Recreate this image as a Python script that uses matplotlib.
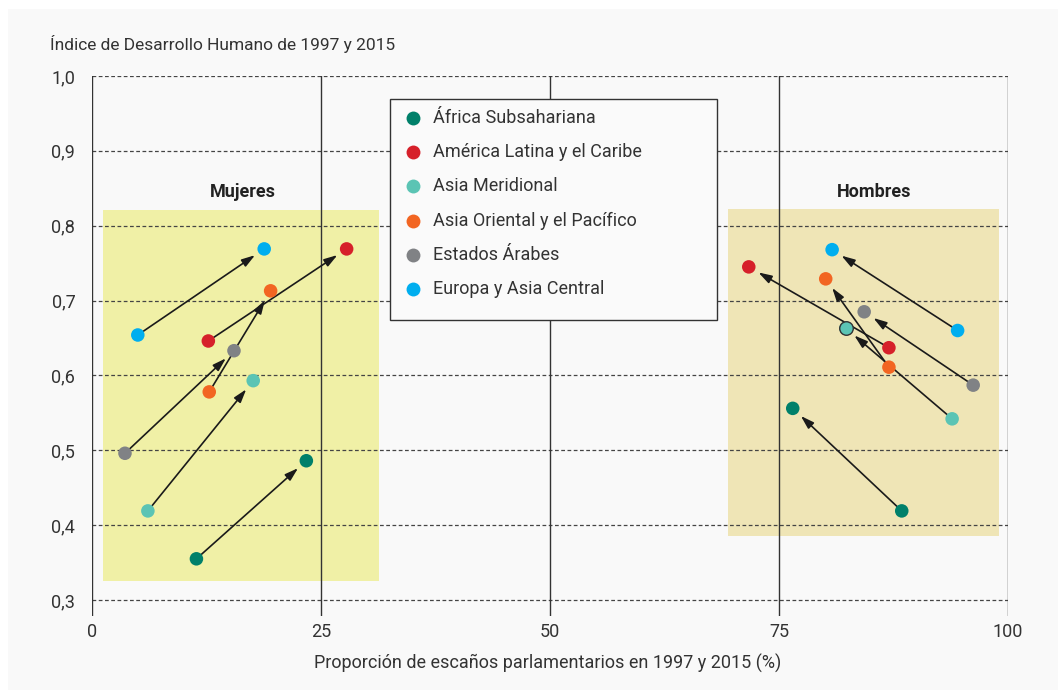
import matplotlib
matplotlib.use("Agg")
import matplotlib.pyplot as plt
from matplotlib.patches import Rectangle

plt.rcParams['font.family'] = ['Roboto', 'DejaVu Sans']

# Data
regions = ["África Subsahariana", "América Latina y el Caribe", "Asia Meridional",
           "Asia Oriental y el Pacífico", "Estados Árabes", "Europa y Asia Central"]
colors = ["#00806a", "#d6202a", "#5bc4b4", "#f26522", "#808285", "#00aeef"]

# women: seat share and HDI in 1997 and 2015
women_share_1997 = [11.4, 12.7, 6.1, 12.8, 3.6, 5.0]
women_share_2015 = [23.4, 27.8, 17.6, 19.5, 15.5, 18.8]
women_hdi_1997 = [0.355, 0.646, 0.419, 0.578, 0.496, 0.654]
women_hdi_2015 = [0.486, 0.769, 0.593, 0.713, 0.633, 0.769]

# men
men_share_1997 = [88.4, 87.0, 93.9, 87.0, 96.2, 94.5]
men_share_2015 = [76.5, 71.7, 82.3, 80.1, 84.3, 80.8]
men_hdi_1997 = [0.419, 0.637, 0.542, 0.611, 0.587, 0.660]
men_hdi_2015 = [0.556, 0.745, 0.663, 0.729, 0.685, 0.768]

yticks = [0.3, 0.4, 0.5, 0.6, 0.7, 0.8, 0.9, 1.0]
ytick_labels = ["0,3", "0,4", "0,5", "0,6", "0,7", "0,8", "0,9", "1,0"]
xticks = [0, 25, 50, 75, 100]

fig = plt.figure(figsize=(10.58, 6.91), dpi=100)
fig.patch.set_facecolor("white")
panel = Rectangle((8 / 1058, 1 - 690 / 691), 1 - 8 / 1058, (690 - 9) / 691,
                  transform=fig.transFigure, facecolor="#f9f9f9",
                  edgecolor="none", zorder=-10)
fig.add_artist(panel)

ax = fig.add_axes([92 / 1058, 1 - 616 / 691, 916 / 1058, 540 / 691])
ax.set_facecolor("none")
ax.set_xlim(0, 100)
ax.set_ylim(0.2786, 1.0)
for s in ax.spines.values():
    s.set_visible(False)

# shaded panels
ax.add_patch(Rectangle((1.2, 0.325), 30.1, 0.496, facecolor="#f0f0a6", edgecolor="none", zorder=1))
ax.add_patch(Rectangle((69.4, 0.386), 29.6, 0.436, facecolor="#efe5b6", edgecolor="none", zorder=1))

# grid
for y in yticks:
    ax.plot([0, 100], [y, y], color="#444444", lw=0.9, linestyle=(0, (3, 2)), zorder=2)
for x in xticks:
    ax.axvline(x, color="#333333", lw=1.0, zorder=2)

ax.set_yticks(yticks)
ax.set_yticklabels(ytick_labels)
ax.set_xticks(xticks)
ax.tick_params(length=0, labelsize=13, colors="#333333")
ax.tick_params(axis="x", pad=5)
ax.tick_params(axis="y", pad=12)

ax.text(16.5, 0.845, "Mujeres", ha="center", va="center", fontsize=13, fontweight="bold",
        color="#222222", zorder=3)
ax.text(85.4, 0.845, "Hombres", ha="center", va="center", fontsize=13, fontweight="bold",
        color="#222222", zorder=3)


def draw_arrows(x0, y0, x1, y1):
    for i in range(len(regions)):
        ax.annotate("", xy=(x1[i], y1[i]), xytext=(x0[i], y0[i]),
                    arrowprops=dict(arrowstyle="-|>,head_length=0.8,head_width=0.25",
                                    color="#1a1a1a", lw=1.2, shrinkA=4, shrinkB=8),
                    zorder=4)
        ax.scatter([x0[i], x1[i]], [y0[i], y1[i]], s=95, color=colors[i],
                   edgecolors="none", zorder=5)


draw_arrows(women_share_1997, women_hdi_1997, women_share_2015, women_hdi_2015)
draw_arrows(men_share_1997, men_hdi_1997, men_share_2015, men_hdi_2015)
# outlined point in the men panel
ax.scatter([men_share_2015[2]], [men_hdi_2015[2]], s=95, color=colors[2],
           edgecolors="#333333", linewidths=1.0, zorder=6)

# legend box drawn by hand
ax.add_patch(Rectangle((0.3253, 0.5481), 0.357, 0.4093, transform=ax.transAxes,
                       facecolor="#fafafa", edgecolor="#333333", lw=1.0, zorder=7))
for i, (name, c) in enumerate(zip(regions, colors)):
    ypos = (616 - (118 + 34.2 * i)) / 540
    ax.plot([0.3504], [ypos], marker="o", markersize=10, color=c, markeredgecolor="none",
            transform=ax.transAxes, zorder=8)
    ax.text(0.3723, ypos, name, transform=ax.transAxes, ha="left", va="center",
            fontsize=13, color="#333333", zorder=8)

fig.text(50 / 1058, 1 - 44 / 691, "Índice de Desarrollo Humano de 1997 y 2015",
         ha="left", va="center", fontsize=12.5, color="#333333")
fig.text(548 / 1058, 1 - 663 / 691, "Proporción de escaños parlamentarios en 1997 y 2015 (%)",
         ha="center", va="center", fontsize=13, color="#333333")

fig.savefig("out.png", dpi=100, facecolor=fig.get_facecolor())
